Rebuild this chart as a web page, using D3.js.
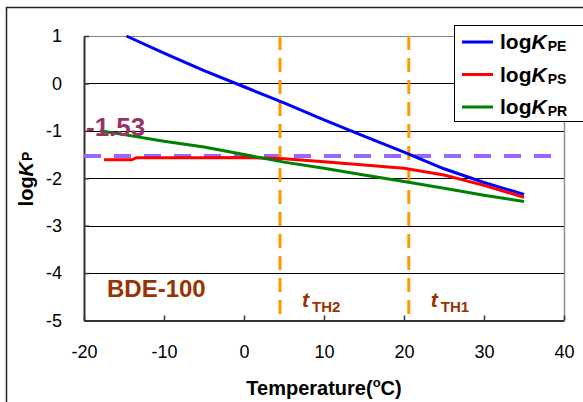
<!DOCTYPE html>
<html>
<head>
<meta charset="utf-8">
<script src="https://cdn.jsdelivr.net/npm/d3@7"></script>
<style>
  html, body { margin: 0; padding: 0; background: #fff; }
  svg { display: block; font-family: "Liberation Sans", Arial, sans-serif; }
</style>
</head>
<body>
<svg id="chart" width="583" height="402"></svg>
<script>
// Partition coefficients of BDE-100 versus temperature
const tempPE = [-14.7, -10, -5, 0, 5, 10, 15, 20, 25, 30, 35];
const logKPE = [1.0, 0.64, 0.27, -0.07, -0.41, -0.77, -1.11, -1.45, -1.80, -2.09, -2.34];

const tempPS = [-17.5, -14, -13.5, -5, 0, 5, 10, 15, 20, 25, 30, 35];
const logKPS = [-1.61, -1.61, -1.57, -1.57, -1.56, -1.59, -1.65, -1.72, -1.79, -1.93, -2.15, -2.40];

const tempPR = [-18, -15, -10, -5, 0, 5, 10, 15, 20, 25, 30, 35];
const logKPR = [-1.0, -1.08, -1.22, -1.34, -1.50, -1.66, -1.79, -1.93, -2.07, -2.21, -2.36, -2.49];

const xTicks = [-20, -10, 0, 10, 20, 30, 40];
const yTicks = [1, 0, -1, -2, -3, -4, -5];

const refLevel = -1.53;          // horizontal reference line and its label
const refSpan = [-20, 38.6];
const thresholds = [4.5, 20.6];  // tTH2, tTH1
const thresholdNames = ["TH2", "TH1"];

const seriesNames = ["PE", "PS", "PR"];
const seriesColors = ["#0000FF", "#FF0000", "#008000"];

const svg = d3.select("#chart");

const x = d3.scaleLinear().domain([-20, 40]).range([84, 564]);
const y = d3.scaleLinear().domain([-5, 1]).range([320.5, 36]);

// outer chart frame
svg.append("rect")
  .attr("x", 6.5).attr("y", 7.5).attr("width", 700).attr("height", 500)
  .attr("fill", "none").attr("stroke", "#222").attr("stroke-width", 1.5);

// horizontal gridlines
svg.append("g").selectAll("line")
  .data(yTicks.filter(d => d > -5))
  .join("line")
  .attr("x1", x(-20)).attr("x2", x(40))
  .attr("y1", d => Math.round(y(d)) + 0.5).attr("y2", d => Math.round(y(d)) + 0.5)
  .attr("stroke", d => d === 1 ? "#808080" : "#000")
  .attr("stroke-width", 1);

// right border of plot area
svg.append("line")
  .attr("x1", x(40) + 0.5).attr("x2", x(40) + 0.5)
  .attr("y1", y(1)).attr("y2", y(-5))
  .attr("stroke", "#909090").attr("stroke-width", 1.5);

// axes (plain hyphen for negative numbers)
const fmt = d => String(d);
const xAxis = d3.axisBottom(x).tickValues(xTicks).tickFormat(fmt)
  .tickSize(-5).tickSizeOuter(0).tickPadding(25);
const yAxis = d3.axisLeft(y).tickValues(yTicks).tickFormat(fmt)
  .tickSize(-5).tickSizeOuter(0).tickPadding(22);

const gx = svg.append("g").attr("transform", `translate(0,${y(-5)})`).call(xAxis);
const gy = svg.append("g").attr("transform", `translate(${x(-20)},0)`).call(yAxis);
[gx, gy].forEach(g => {
  g.select(".domain").attr("stroke", "#333").attr("stroke-width", 2);
  g.selectAll(".tick line").attr("stroke", "#333").attr("stroke-width", 1.5);
  g.selectAll(".tick text").attr("font-size", 18).attr("fill", "#000")
    .attr("font-family", "Liberation Sans, Arial, sans-serif");
});

// reference level
svg.append("line")
  .attr("x1", x(refSpan[0])).attr("x2", x(refSpan[1]))
  .attr("y1", y(refLevel)).attr("y2", y(refLevel))
  .attr("stroke", "#9966FF").attr("stroke-width", 4)
  .attr("stroke-dasharray", "17,13");

// threshold temperatures
svg.append("g").selectAll("line")
  .data(thresholds)
  .join("line")
  .attr("x1", d => x(d)).attr("x2", d => x(d))
  .attr("y1", y(1)).attr("y2", y(-5))
  .attr("stroke", "#FF9900").attr("stroke-width", 3)
  .attr("stroke-dasharray", "14,8");

// series lines
const series = [
  { t: tempPE, v: logKPE },
  { t: tempPS, v: logKPS },
  { t: tempPR, v: logKPR }
];
const line = d3.line().x(d => x(d[0])).y(d => y(d[1]));
series.forEach((s, i) => {
  svg.append("path")
    .datum(s.t.map((t, j) => [t, s.v[j]]))
    .attr("d", line)
    .attr("fill", "none")
    .attr("stroke", seriesColors[i])
    .attr("stroke-width", 3)
    .attr("stroke-linejoin", "round");
});

// annotation texts
svg.append("text")
  .attr("x", 86).attr("y", 136)
  .attr("font-size", 26).attr("font-weight", "bold").attr("fill", "#993366")
  .text(refLevel.toFixed(2));

svg.append("text")
  .attr("x", 107).attr("y", 297)
  .attr("font-size", 24).attr("font-weight", "bold").attr("fill", "#993300")
  .text("BDE-100");

thresholds.forEach((t, i) => {
  const tx = svg.append("text")
    .attr("x", x(t) + 22).attr("y", 307)
    .attr("font-weight", "bold").attr("fill", "#993300");
  tx.append("tspan").attr("font-size", 21).attr("font-style", "italic").text("t");
  tx.append("tspan").attr("font-size", 15).attr("dy", 5).attr("dx", 3).text(thresholdNames[i]);
});

// legend
const lg = svg.append("g");
lg.append("rect")
  .attr("x", 454.5).attr("y", 25.5).attr("width", 200).attr("height", 96)
  .attr("fill", "#fff").attr("stroke", "#000").attr("stroke-width", 1);
seriesNames.forEach((n, i) => {
  const ly = 42 + i * 32.5;
  lg.append("line")
    .attr("x1", 462).attr("x2", 493).attr("y1", ly).attr("y2", ly)
    .attr("stroke", seriesColors[i]).attr("stroke-width", 3);
  const t = lg.append("text")
    .attr("x", 500).attr("y", ly + 7)
    .attr("font-weight", "bold").attr("font-size", 21).attr("fill", "#000");
  t.append("tspan").text("log");
  t.append("tspan").attr("font-style", "italic").text("K");
  t.append("tspan").attr("font-size", 14).attr("dy", 2).attr("dx", 1).text(n);
});

// axis titles
const xt = svg.append("text")
  .attr("x", 324).attr("y", 395).attr("text-anchor", "middle")
  .attr("font-size", 20).attr("font-weight", "bold").attr("fill", "#000");
xt.append("tspan").text("Temperature(");
xt.append("tspan").attr("font-size", 13).attr("dy", -8).text("o");
xt.append("tspan").attr("dy", 8).text("C)");

const yt = svg.append("text")
  .attr("transform", "translate(33,179) rotate(-90)")
  .attr("text-anchor", "middle")
  .attr("font-size", 20).attr("font-weight", "bold").attr("fill", "#000");
yt.append("tspan").text("log");
yt.append("tspan").attr("font-style", "italic").text("K");
yt.append("tspan").attr("font-size", 14).attr("dy", -1).attr("dx", 1).text("P");
</script>
</body>
</html>
